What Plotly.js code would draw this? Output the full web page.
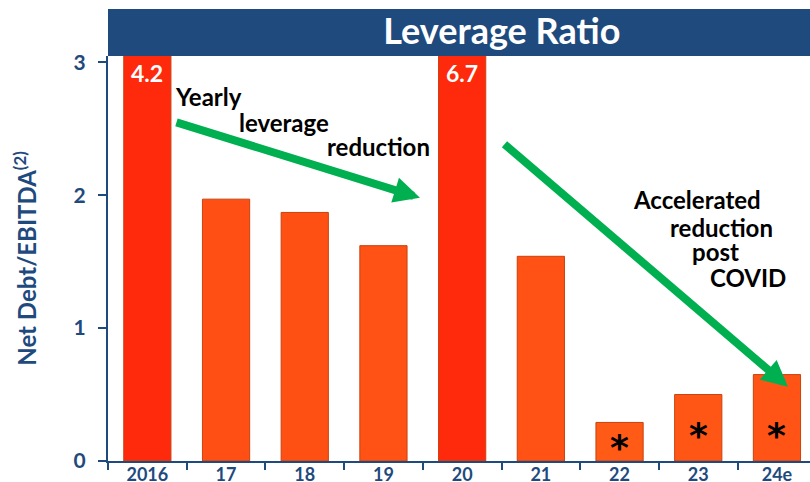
<!DOCTYPE html>
<html>
<head>
<meta charset="utf-8">
<script src="https://cdn.plot.ly/plotly-3.0.1.min.js"></script>
<style>
  html, body { margin: 0; padding: 0; background: #fff; }
  #plotArea { width: 810px; height: 482px; }
</style>
</head>
<body>
<div id="plotArea"></div>
<script>
// leverage ratio by year (2016 and 2020 run off the top of the axis)
var years = ["2016", "17", "18", "19", "20", "21", "22", "23", "24e"];
var ratio = [4.2, 1.97, 1.87, 1.62, 6.7, 1.54, 0.29, 0.50, 0.65];
var notes = ["", "", "", "", "", "", "*", "*", "*"];
var barColors = ["#ff2a0c", "#ff4f14", "#ff5014", "#ff5214", "#ff2a0c", "#ff5214", "#ff5a16", "#ff5616", "#ff5416"];

var blue = "#1f4a7d";
var yMax = 3.047;

var trace = {
    x: years,
    y: ratio,
    type: "bar",
    width: 0.6,
    marker: {color: barColors, line: {color: "#c8420e", width: 1}},
    hoverinfo: "x+y"
};

var annotations = [];

// category axis: annotations use the index, "20" would be read as position 20
ratio.forEach(function (v, i) {
    if (v > yMax) {
        annotations.push({
            x: i, y: 1, xref: "x", yref: "paper", yanchor: "top", yshift: -1,
            text: "<b>" + v.toFixed(1) + "</b>", showarrow: false,
            font: {family: "Lato", size: 23, color: "#ffffff"}
        });
    }
    if (notes[i]) {
        annotations.push({
            x: i, y: Math.min(v / 2, 0.24), xref: "x", yref: "y", yanchor: "middle", yshift: -6,
            text: "<b>" + notes[i] + "</b>", showarrow: false,
            font: {family: "DejaVu Sans", size: 36, color: "#000000"}
        });
    }
});

// text blocks
var textFont = {family: "Lato", size: 24, color: "#000000"};
var lines = [
    ["Yearly", 0.33, 2.739],
    ["leverage", 1.14, 2.544],
    ["reduction", 2.26, 2.363],
    ["Accelerated", 6.15, 1.965],
    ["reduction", 6.61, 1.754],
    ["post", 6.90, 1.574],
    ["COVID", 7.12, 1.378]
];
lines.forEach(function (l) {
    annotations.push({
        x: l[1], y: l[2], xref: "x", yref: "y", xanchor: "left", yanchor: "middle",
        text: "<b>" + l[0] + "</b>", showarrow: false, font: textFont
    });
});

// green arrows
var arrows = [
    [0.351, 2.551, 3.464, 1.98],
    [4.519, 2.393, 8.14, 0.559]
];
arrows.forEach(function (a) {
    annotations.push({
        x: a[2], y: a[3], ax: a[0], ay: a[1],
        xref: "x", yref: "y", axref: "x", ayref: "y",
        text: "", showarrow: true,
        arrowhead: 2, arrowsize: 0.65, arrowwidth: 8, arrowcolor: "#00b050"
    });
});

var layout = {
    width: 810,
    height: 482,
    margin: {l: 108, r: 0, t: 56, b: 21},
    paper_bgcolor: "#ffffff",
    plot_bgcolor: "#ffffff",
    showlegend: false,
    font: {family: "Lato", color: blue},
    title: {
        text: "<b>Leverage Ratio</b>",
        font: {family: "Lato", size: 36, color: "#ffffff"},
        x: 0.561, xanchor: "center", xref: "paper",
        y: 0.935, yanchor: "middle", yref: "container"
    },
    xaxis: {
        type: "category",
        range: [-0.5, 8.42],
        showline: true, linecolor: blue, linewidth: 2,
        ticks: "outside", tickson: "boundaries", ticklen: 7, tickwidth: 2, tickcolor: blue,
        ticklabelstandoff: -4,
        tickfont: {family: "Lato", size: 18, color: blue, weight: "bold"},
        showgrid: false, zeroline: false, fixedrange: true
    },
    yaxis: {
        range: [0, yMax],
        tickvals: [0, 1, 2, 3],
        showline: true, linecolor: blue, linewidth: 2,
        ticks: "outside", ticklen: 8, tickwidth: 2, tickcolor: blue,
        ticklabelstandoff: 8,
        tickfont: {family: "Lato", size: 21, color: blue, weight: "bold"},
        title: {
            text: "<b>Net Debt/EBITDA<sup>(2)</sup></b>",
            font: {family: "Lato", size: 24, color: blue},
            standoff: 30
        },
        showgrid: false, zeroline: false, fixedrange: true
    },
    shapes: [{
        type: "rect", xref: "paper", yref: "paper",
        x0: 0, x1: 1, y0: 1.0, y1: 1.116,
        fillcolor: blue, line: {width: 0}, layer: "above"
    }],
    annotations: annotations
};

Plotly.newPlot("plotArea", [trace], layout, {displayModeBar: false, staticPlot: true});
</script>
</body>
</html>
